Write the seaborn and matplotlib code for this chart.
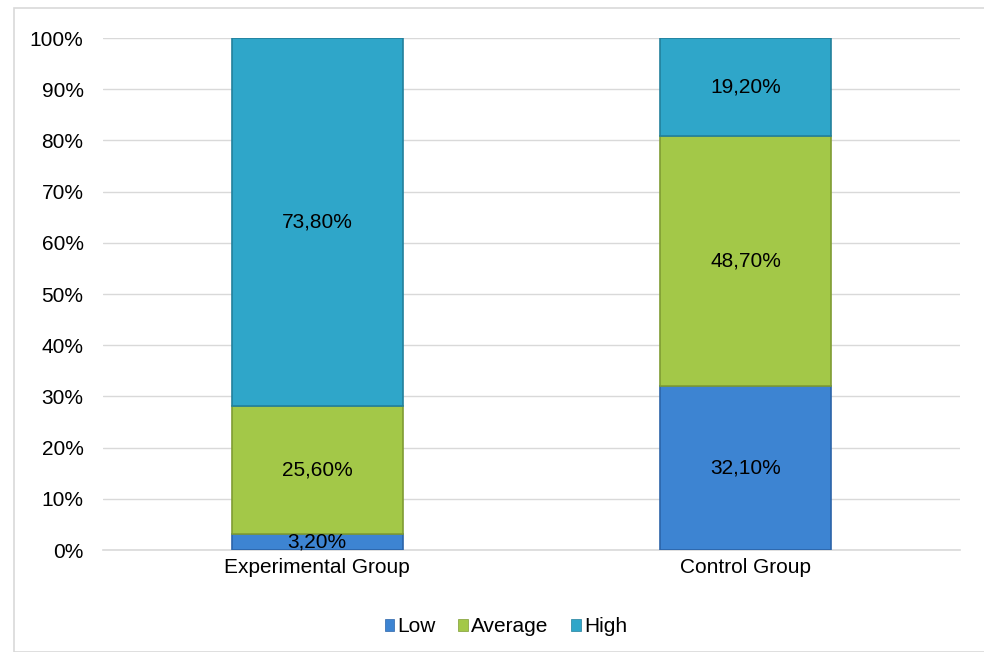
import numpy as np
import pandas as pd
import matplotlib
matplotlib.use("Agg")
import matplotlib.pyplot as plt
import seaborn as sns
from matplotlib.patches import Rectangle

# data (percent of students per level)
groups = ["Experimental Group", "Control Group"]
levels = ["Low", "Average", "High"]
low = [3.2, 32.1]
average = [25.6, 48.7]
high = [73.8, 19.2]

colors = {"Low": "#3d84d2", "Average": "#a3c848", "High": "#2fa6c9"}
edges = {"Low": "#2c64a8", "Average": "#7f9c33", "High": "#22809c"}

sns.set_theme(style="white")
plt.rcParams["font.family"] = ["Liberation Sans", "DejaVu Sans"]
plt.rcParams["font.size"] = 15
plt.rcParams["text.color"] = "black"
plt.rcParams["xtick.color"] = "black"
plt.rcParams["ytick.color"] = "black"

raw = pd.DataFrame({"group": groups, "Low": low, "Average": average, "High": high})
totals = raw[levels].sum(axis=1)

fig = plt.figure(figsize=(9.84, 6.52), dpi=100)
ax = fig.add_axes([0.1047, 0.1564, 0.8709, 0.7853])

# chart frame
fig.patches.append(Rectangle((14 / 984, 0), 1, 1 - 8 / 652, transform=fig.transFigure,
                             fill=False, edgecolor="#d9d9d9", linewidth=1.2, zorder=0))

bottom = np.zeros(len(groups))
for lvl in levels:
    share = (raw[lvl] / totals * 100).values
    sns.barplot(x=raw["group"], y=share, bottom=bottom, color=colors[lvl],
                saturation=1, width=0.4, edgecolor=edges[lvl], linewidth=1.2, ax=ax,
                label=lvl, zorder=3)
    cont = ax.containers[-1]
    ax.bar_label(cont, labels=[f"{v:.2f}%".replace(".", ",") for v in raw[lvl]],
                 label_type="center", fontsize=15, color="black", zorder=5)
    bottom = bottom + share

ax.set_ylim(0, 100)
ax.set_yticks(np.arange(0, 101, 10))
ax.set_yticklabels([f"{t}%" for t in range(0, 101, 10)])
ax.yaxis.grid(True, color="#d9d9d9", linewidth=1)
ax.set_axisbelow(True)
ax.set_xlabel("")
ax.set_ylabel("")
ax.tick_params(axis="both", length=0, labelsize=15, pad=6)
ax.tick_params(axis="y", pad=14)
for s in ["top", "right", "left"]:
    ax.spines[s].set_visible(False)
ax.spines["bottom"].set_color("#d9d9d9")
ax.spines["bottom"].set_linewidth(1.2)

leg = ax.legend(loc="upper center", bbox_to_anchor=(0.47, -0.095), ncol=3, frameon=False,
                fontsize=15, handlelength=0.45, handleheight=0.45, handletextpad=0.15,
                columnspacing=1.1)
for h in leg.legend_handles:
    h.set_linewidth(0.5)

fig.savefig("out.png", dpi=100)
